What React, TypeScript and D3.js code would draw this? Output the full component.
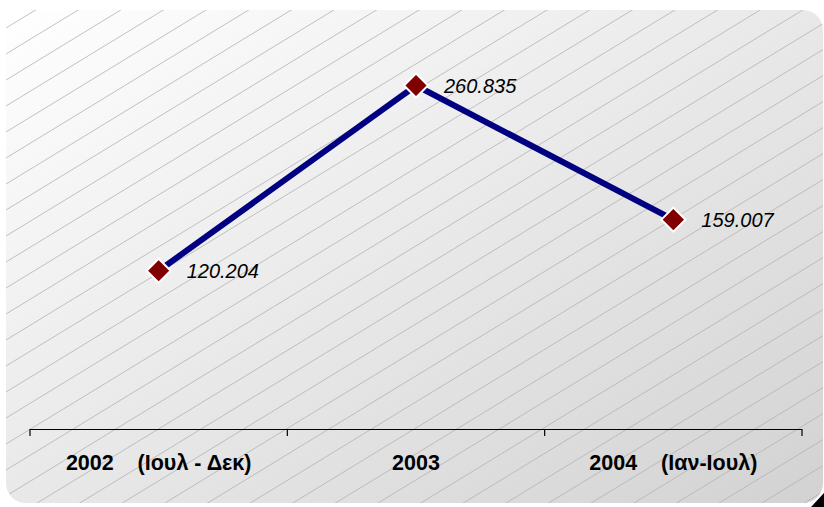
import React from "react";
import * as d3 from "d3";

const categories = ["2002    (Ιουλ - Δεκ)", "2003", "2004    (Ιαν-Ιουλ)"];
const values = [120.204, 260.835, 159.007];
const valueLabels = ["120.204", "260.835", "159.007"];

const W = 824;
const H = 507;

export default function App() {
  const x = d3.scaleBand<string>().domain(categories).range([30, 802]);
  const y = d3.scaleLinear().domain([0, 300]).range([429, 34]);
  const pts = categories.map((c, i) => [x(c)! + x.bandwidth() / 2, y(values[i])] as [number, number]);
  const line = d3.line();
  const ticks = [30, ...categories.map((c) => x(c)! + x.bandwidth())];

  // hatch lines
  const rx = 6, ry = 10, rw = 817, rh = 493;
  const hatch: string[] = [];
  const slope = 0.61;
  const spacing = 26;
  for (let k = -20; k < 60; k++) {
    const y0 = ry + k * spacing + 18;
    const x1 = rx, y1 = y0;
    const x2 = rx + rw, y2 = y0 - slope * rw;
    hatch.push(`M${x1},${y1}L${x2},${y2}`);
  }

  const diamond = (cx: number, cy: number, r: number) =>
    `M${cx},${cy - r}L${cx + r},${cy}L${cx},${cy + r}L${cx - r},${cy}Z`;

  return (
    <svg width={W} height={H} style={{ position: "absolute", left: 0, top: 0 }}>
      <defs>
        <linearGradient id="bg" x1="0" y1="0" x2="1" y2="1">
          <stop offset="0" stopColor="#ffffff" />
          <stop offset="1" stopColor="#d2d2d2" />
        </linearGradient>
        <clipPath id="clip">
          <rect x={rx} y={ry} width={rw} height={rh} rx={20} ry={20} />
        </clipPath>
      </defs>
      <rect x={0} y={0} width={W} height={H} fill="#ffffff" />
      <path d={`M811,${H}L${W},${H}L${W},493Z`} fill="#000000" />
      <rect x={rx} y={ry} width={rw} height={rh} rx={20} ry={20} fill="url(#bg)" />
      <g clipPath="url(#clip)">
        {hatch.map((d, i) => (
          <path key={i} d={d} stroke="#b2b2b2" strokeWidth={0.8} fill="none" />
        ))}
      </g>
      {/* axis */}
      <line x1={30} x2={802} y1={429.5} y2={429.5} stroke="#000" strokeWidth={1.2} />
      {ticks.map((t, i) => (
        <line key={i} x1={t} x2={t} y1={429} y2={436} stroke="#000" strokeWidth={1.2} />
      ))}
      {categories.map((c, i) => (
        <text
          key={c}
          x={x(c)! + x.bandwidth() / 2}
          y={470}
          textAnchor="middle"
          fontFamily="Liberation Sans, Arial, sans-serif"
          fontWeight="bold"
          fontSize={21.5}
          style={{ whiteSpace: "pre" }}
        >
          {c}
        </text>
      ))}
      <path d={line(pts)!} stroke="#000080" strokeWidth={6} fill="none" />
      {pts.map((p, i) => (
        <g key={i}>
          <path d={diamond(p[0], p[1], 12)} fill="#800000" stroke="#ffffff" strokeWidth={2} />
          <text
            x={p[0] + 28}
            y={p[1] + 7}
            fontFamily="Liberation Sans, Arial, sans-serif"
            fontStyle="italic"
            fontSize={20}
            fill="#000"
          >
            {valueLabels[i]}
          </text>
        </g>
      ))}
    </svg>
  );
}
